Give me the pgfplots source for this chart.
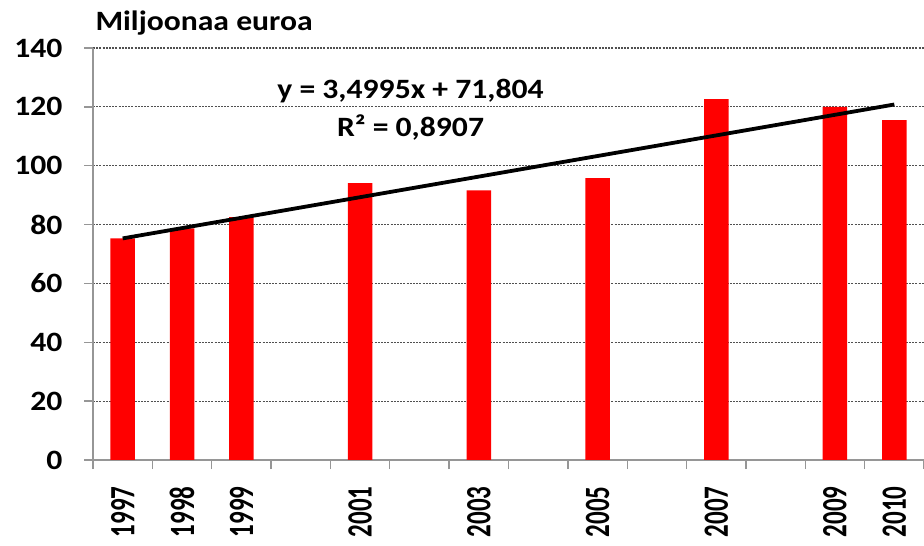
\documentclass[border=0pt]{standalone}
\usepackage{fontspec}
\setmainfont{Carlito}
\newfontfamily\wide[FakeStretch=1.13]{Carlito}
\usepackage{graphicx}
\usepackage{pgfplots}
\pgfplotsset{compat=1.18}
\definecolor{barred}{RGB}{255,0,0}
\definecolor{axgray}{RGB}{150,150,150}
\definecolor{gridgray}{RGB}{80,80,80}
\newcommand\yl[1]{\scalebox{1}[1.42]{#1}}
\begin{document}
\begin{tikzpicture}
\useasboundingbox (0,0) rectangle (924pt,546pt);
\begin{axis}[
  at={(93pt,86pt)}, anchor=south west,
  scale only axis, width=831pt, height=412pt,
  xmin=-0.5, xmax=13.5, ymin=0, ymax=140,
  axis x line*=bottom, axis y line*=left,
  axis line style={axgray, line width=1.3pt, -},
  xtick={-0.5,0.5,...,13.5}, xticklabels={},
  extra x ticks={0,1,2,4,6,8,10,12,13},
  extra x tick labels={\yl{1997},\yl{1998},\yl{1999},\yl{2001},\yl{2003},\yl{2005},\yl{2007},\yl{2009},\yl{2010}},
  extra x tick style={major tick length=0pt,
    xticklabel style={rotate=90, anchor=east, xshift=-23pt,
      font=\bfseries\fontsize{25}{27}\selectfont}},
  ytick={0,20,...,140},
  tick align=outside, major tick length=9pt,
  tick style={axgray, line width=1.3pt},
  ymajorgrids, grid style={gridgray, line width=1.1pt, dash pattern=on 2pt off 1.2pt},
  /pgf/number format/assume math mode=true,
  yticklabel style={font=\wide\bfseries\fontsize{28}{30}\selectfont, text=black, xshift=-18pt},
  clip=false,
]
\addplot[ybar, bar width=24.5pt, fill=barred, draw=none] coordinates {
  (0,75.3) (1,78.7) (2,82.5) (4,94.1) (6,91.6) (8,95.8) (10,122.6) (12,120.0) (13,115.5)
};
\addplot[black, line width=3.8pt] coordinates {(0,75.30) (13,120.80)};
\node[align=center, font=\wide\bfseries\fontsize{28}{38}\selectfont] at (axis cs:4.85,119.0) {y = 3,4995x + 71,804\\R² = 0,8907};
\end{axis}
\node[anchor=base west, font=\wide\bfseries\fontsize{28}{30}\selectfont] at (92pt,515pt) {Miljoonaa euroa};
\end{tikzpicture}
\end{document}
